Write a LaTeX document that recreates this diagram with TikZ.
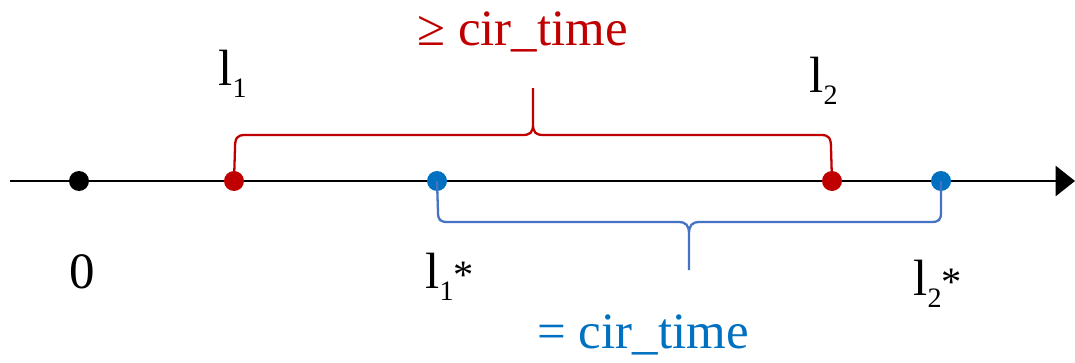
\documentclass[tikz,border=0pt]{standalone}
\usepackage{fontspec}
\setmainfont{Liberation Serif}
\usetikzlibrary{arrows.meta}
\definecolor{dred}{RGB}{192,0,0}
\definecolor{dblue}{RGB}{0,112,192}
\definecolor{lblue}{RGB}{68,114,196}
\newcommand{\sub}[1]{\raisebox{-0.24em}{\fontsize{16}{16}\selectfont #1}}
\newcommand{\mystar}{{\fontsize{23}{23}\selectfont *}}
\begin{document}
\begin{tikzpicture}[x=0.02cm,y=-0.02cm,
  dot/.style={circle,fill=#1,inner sep=0pt,minimum size=0.4cm},
  lbl/.style={anchor=base west,inner sep=0pt,font=\fontsize{29}{32}\selectfont},
  redline/.style={draw=dred,line width=1.3pt},
  blueline/.style={draw=lblue,line width=1.3pt}]
\useasboundingbox (0,0) rectangle (1075,362);
% axis
\coordinate (a0) at (10,181);
\coordinate (a1) at (1075,181);
\draw[line width=1.7pt,-{Triangle[length=11pt,width=17pt]}] (a0) -- (a1);
% dots
\node[dot=black] (z) at (79,181) {};
\node[dot=dred] (r1) at (234,181) {};
\node[dot=dblue] (b1) at (437,181) {};
\node[dot=dred] (r2) at (832,181) {};
\node[dot=dblue] (b2) at (941,181) {};
% red brace
\draw[redline] (r1.center) -- (235,148) .. controls (235,138) and (237,135) .. (245,135)
  -- (522,135) .. controls (530,135) and (533,133) .. (533,124) -- (533,88)
  (533,124) .. controls (533,133) and (536,135) .. (544,135)
  -- (821,135) .. controls (829,135) and (831,138) .. (831,148) -- (r2.center);
% blue brace
\draw[blueline] (b1.center) -- (438,212) .. controls (438,220) and (440,222) .. (448,222)
  -- (678,222) .. controls (686,222) and (689,225) .. (689,234) -- (689,270)
  (689,234) .. controls (689,225) and (692,222) .. (700,222)
  -- (931,222) .. controls (939,222) and (941,220) .. (941,212) -- (b2.center);
% labels
\node[lbl] (l1) at (218,85) {l\sub{1}};
\node[lbl] (l2) at (809,92) {l\sub{2}};
\node[lbl,text=dred] (ge) at (417,45) {≥ cir\_time};
\node[lbl] (zero) at (69,288) {0};
\node[lbl] (l1s) at (425,288) {l\sub{1}\mystar};
\node[lbl] (l2s) at (913,295) {l\sub{2}\mystar};
\node[lbl,text=dblue] (eq) at (537,348) {= cir\_time};
\end{tikzpicture}
\end{document}
